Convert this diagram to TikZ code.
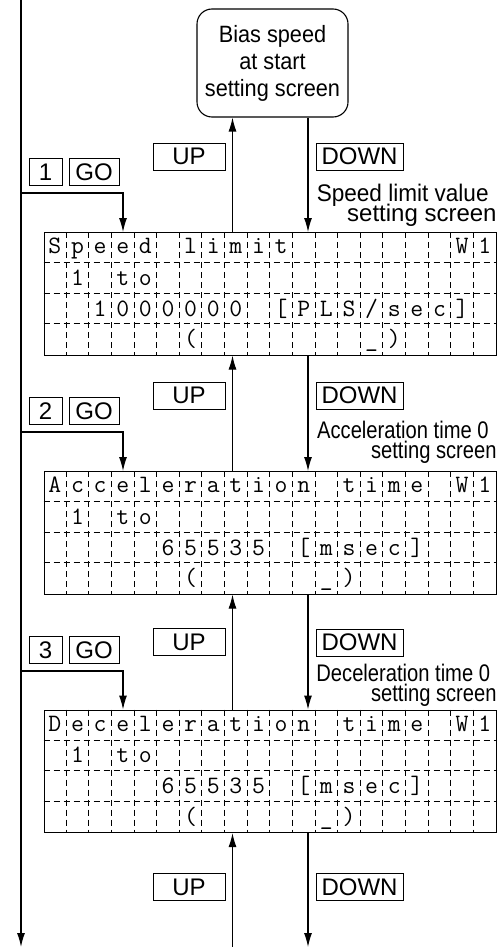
\documentclass[tikz,border=0pt]{standalone}
\usepackage{fontspec}
\setmainfont{Liberation Sans}
\newfontfamily\condfont[FakeStretch=0.84]{Liberation Sans}
\newfontfamily\semifont[FakeStretch=0.94]{Liberation Sans}
\newfontfamily\biasfont[FakeStretch=0.92]{Liberation Sans}
\usetikzlibrary{arrows.meta}
\newcommand\myLP{(}
\newcommand\myRP{)}
\newcommand\mySL{/}
\tikzset{
  arr/.style={-{Latex[length=7pt,width=4pt]}, line width=0.55pt},
  lbl/.style={draw, line width=0.5pt, inner sep=0pt, minimum height=13.5pt,
    font=\fontsize{12}{14}\selectfont},
  desc/.style={anchor=base east, inner sep=0pt},
  descsemi/.style={desc, font=\semifont\fontsize{12}{14}\selectfont},
  descnorm/.style={desc, font=\fontsize{12}{14}\selectfont},
  desccond/.style={desc, font=\condfont\fontsize{12}{14}\selectfont},
  cell/.style={anchor=base, inner sep=0pt, font=\ttfamily\fontsize{12.5}{14}\selectfont},
  scr/.style={draw, line width=0.55pt, inner sep=0pt, minimum width=226.25pt, minimum height=61.25pt},
  gridline/.style={line width=0.4pt, dash pattern=on 3pt off 2pt},
}
\newcommand\lcdscreen[6]{%
  \node[scr, anchor=north west] (#1) at (43.5,#2) {};
  \foreach \i in {1,...,19} \draw[gridline] ({43.5+\i*22.625},#2) -- ++(0,122.5);
  \foreach \j in {1,2,3} \draw[gridline] (43.5,{#2+\j*30.625}) -- ++(452.5,0);
  \foreach \c/\ch in {#3} \node[cell] (#1ra\c) at ({43.5+(\c-0.5)*22.625},{#2+21.5}) {\ch};
  \foreach \c/\ch in {#4} \node[cell] (#1rb\c) at ({43.5+(\c-0.5)*22.625},{#2+30.625+22.5}) {\ch};
  \foreach \c/\ch in {#5} \node[cell] (#1rc\c) at ({43.5+(\c-0.5)*22.625},{#2+61.25+23}) {\ch};
  \foreach \c/\ch in {#6} \node[cell] (#1rd\c) at ({43.5+(\c-0.5)*22.625},{#2+91.875+23}) {\ch};
}
\begin{document}
\begin{tikzpicture}[x=0.5pt,y=-0.5pt]
\useasboundingbox (0,0) rectangle (499,947);

% bias box
\node[draw, line width=0.55pt, rounded corners=7.5pt, minimum width=75.5pt, minimum height=54pt,
  align=center, inner sep=0pt, font=\biasfont\fontsize{11.8}{13.5}\selectfont] (bias) at (272.5,63)
  {Bias speed\\at start\\setting screen};

% screens
\lcdscreen{scra}{232}
  {1/S,2/p,3/e,4/e,5/d,7/l,8/i,9/m,10/i,11/t,19/W,20/1}
  {2/1,4/t,5/o}
  {3/1,4/0,5/0,6/0,7/0,8/0,9/0,11/[,12/P,13/L,14/S,15/\mySL,16/s,17/e,18/c,19/]}
  {7/\myLP,15/\_,16/\myRP}
\lcdscreen{scrb}{471}
  {1/A,2/c,3/c,4/e,5/l,6/e,7/r,8/a,9/t,10/i,11/o,12/n,14/t,15/i,16/m,17/e,19/W,20/1}
  {2/1,4/t,5/o}
  {6/6,7/5,8/5,9/3,10/5,12/[,13/m,14/s,15/e,16/c,17/]}
  {7/\myLP,13/\_,14/\myRP}
\lcdscreen{scrc}{709.5}
  {1/D,2/e,3/c,4/e,5/l,6/e,7/r,8/a,9/t,10/i,11/o,12/n,14/t,15/i,16/m,17/e,19/W,20/1}
  {2/1,4/t,5/o}
  {6/6,7/5,8/5,9/3,10/5,12/[,13/m,14/s,15/e,16/c,17/]}
  {7/\myLP,13/\_,14/\myRP}

% key labels
\node[lbl, minimum width=16.5pt] (k1) at (45.5,172) {1};
\node[lbl, minimum width=25pt] (go1) at (94,172) {GO};
\node[lbl, minimum width=36pt] (up1) at (189,156.5) {UP};
\node[lbl, minimum width=43.5pt] (dn1) at (359.5,156.5) {DOWN};

\node[lbl, minimum width=16.5pt] (k2) at (45.5,411) {2};
\node[lbl, minimum width=25pt] (go2) at (94,411) {GO};
\node[lbl, minimum width=36pt] (up2) at (189,395.5) {UP};
\node[lbl, minimum width=43.5pt] (dn2) at (359.5,395.5) {DOWN};

\node[lbl, minimum width=16.5pt] (k3) at (45.5,650) {3};
\node[lbl, minimum width=25pt] (go3) at (94,650) {GO};
\node[lbl, minimum width=36pt] (up3) at (189,642) {UP};
\node[lbl, minimum width=43.5pt] (dn3) at (359.5,642.5) {DOWN};

\node[lbl, minimum width=36pt] (up4) at (189,887) {UP};
\node[lbl, minimum width=43.5pt] (dn4) at (359.5,887) {DOWN};

% descriptions
\node[descsemi] (da1) at (489,201.5) {Speed limit value};
\node[descnorm] (db1) at (497,221.5) {setting screen};
\node[desccond] (da2) at (489,438) {Acceleration time 0};
\node[desccond] (db2) at (497,458.5) {setting screen};
\node[desccond] (da3) at (490.5,681.5) {Deceleration time 0};
\node[desccond] (db3) at (497,701.5) {setting screen};

% coordinates
\coordinate (upx) at (232.5,0);
\coordinate (dnx) at (308,0);
\coordinate (gox) at (123,0);
\coordinate (ltop) at (21,0);
\coordinate (lbot) at (21,947);
\coordinate (bra) at (21,193);
\coordinate (brb) at (21,432);
\coordinate (brc) at (21,671);
\coordinate (upbot) at (232.5,947);
\coordinate (dnbot) at (308,947);

% left line and branches
\draw[arr, line width=0.65pt] (ltop) -- (lbot);
\draw[arr] (bra) -| (scra.north -| gox);
\draw[arr] (brb) -| (scrb.north -| gox);
\draw[arr] (brc) -| (scrc.north -| gox);

% up / down connectors
\draw[arr] (scra.north -| upx) -- (bias.south -| upx);
\draw[arr] (bias.south -| dnx) -- (scra.north -| dnx);
\draw[arr] (scrb.north -| upx) -- (scra.south -| upx);
\draw[arr] (scra.south -| dnx) -- (scrb.north -| dnx);
\draw[arr] (scrc.north -| upx) -- (scrb.south -| upx);
\draw[arr] (scrb.south -| dnx) -- (scrc.north -| dnx);
\draw[arr] (upbot) -- (scrc.south -| upx);
\draw[arr] (scrc.south -| dnx) -- (dnbot);
\end{tikzpicture}
\end{document}
